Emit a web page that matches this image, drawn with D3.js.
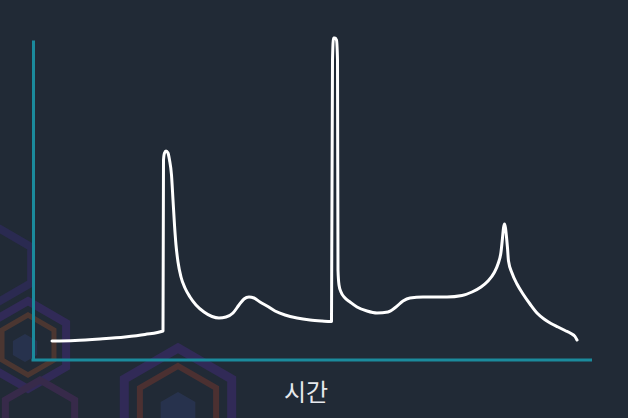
<!DOCTYPE html>
<html><head><meta charset="utf-8">
<script src="https://cdn.jsdelivr.net/npm/d3@7"></script>
<style>html,body{margin:0;padding:0;background:#212a36;overflow:hidden}</style>
</head><body>
<svg id="c" width="628" height="418"></svg>
<script>
// time (x) and level (y) values
const timeValues = [19,42,67,92,112,130,130.5,131.5,133,135,136.5,138.5,140,141.5,143,145,148,152,157,163,171,179,186,193,200,206,211,216,221,227,234,242,252,264,277,289,298,298.5,299.5,300.5,302,303.5,304.5,305,306,308,312,317,324,334,344,355,363,370,377,390,414,429,439,448,455,461,465,468,469.5,470.5,471.5,472.5,473.5,474.5,475.5,479,484,490,497,504,511,518,525,532,538,542,544];
const levelValues = [19,19.5,21,23,25.5,29,200,207,209,207,200,185,160,135,115,98,83,72,63,55,48,43.5,42,43,47,55,61,63,62,58,54,49,45,42,40,39,38.5,38.5,300,322,322,320,300,90,75,68,62,58,53,49,47,48,53,59,62,63,63,64.5,68,73,79,87,96,108,122,132,136,132,123,112,99,87,76,66,56,47,41,36.5,33,29.5,26.5,23.5,20];
const axisLabel = "시간";

const W = 628, H = 418;
const svg = d3.select("#c");
svg.append("rect").attr("width", W).attr("height", H).attr("fill", "#212a36");

// decorative hexagons (background ornament)
const deco = svg.append("g").attr("opacity", 0.4);
function hex(cx, cy, r) {
  const pts = d3.range(6).map(i => {
    const a = Math.PI / 180 * (60 * i - 90);
    return [cx + r * Math.cos(a), cy + r * Math.sin(a)];
  });
  return "M" + pts.join("L") + "Z";
}
[[28, 345, 44, "#4a2a8a", 8], [28, 345, 30, "#8a4a2a", 5], [178, 410, 62, "#4a2a8a", 9], [178, 410, 44, "#8a3a2a", 6], [40, 420, 40, "#5a2a6a", 7], [0, 265, 36, "#3a2a7a", 8]]
  .forEach(([cx, cy, r, col, w]) => {
    deco.append("path").attr("d", hex(cx, cy, r)).attr("fill", "none").attr("stroke", col).attr("stroke-width", w);
  });
[[25, 348, 14], [178, 412, 20]].forEach(([cx, cy, r]) => {
  deco.append("path").attr("d", hex(cx, cy, r)).attr("fill", "#3a4a8a").attr("opacity", 0.7);
});

const x = d3.scaleLinear().domain([0, 559]).range([33, 592]);
const y = d3.scaleLinear().domain([0, 320]).range([360, 40]);

// axes as plain lines
const axisColor = "#1b8a9c";
const yAxis = d3.axisLeft(y).ticks(0).tickSize(0);
const xAxis = d3.axisBottom(x).ticks(0).tickSize(0);
svg.append("g").attr("transform", `translate(${x(0)},0)`).call(yAxis)
  .call(g => g.select(".domain").attr("stroke", axisColor).attr("stroke-width", 3));
svg.append("g").attr("transform", `translate(0,${y(0)})`).call(xAxis)
  .call(g => g.select(".domain").attr("stroke", axisColor).attr("stroke-width", 3).attr("d", `M${x(0)-1.5},0H${x(559)}`));

const data = timeValues.map((t, i) => [t, levelValues[i]]);
const line = d3.line().x(d => x(d[0])).y(d => y(d[1])).curve(d3.curveMonotoneX);
svg.append("path").datum(data).attr("d", line)
  .attr("fill", "none").attr("stroke", "#ffffff").attr("stroke-width", 3)
  .attr("stroke-linejoin", "round").attr("stroke-linecap", "round");

svg.append("text").attr("x", 306).attr("y", 401).attr("text-anchor", "middle")
  .attr("font-family", "'Noto Sans CJK KR', 'Noto Sans', sans-serif").attr("font-size", 24)
  .attr("fill", "#e6e8ec").text(axisLabel);
</script>
</body></html>
